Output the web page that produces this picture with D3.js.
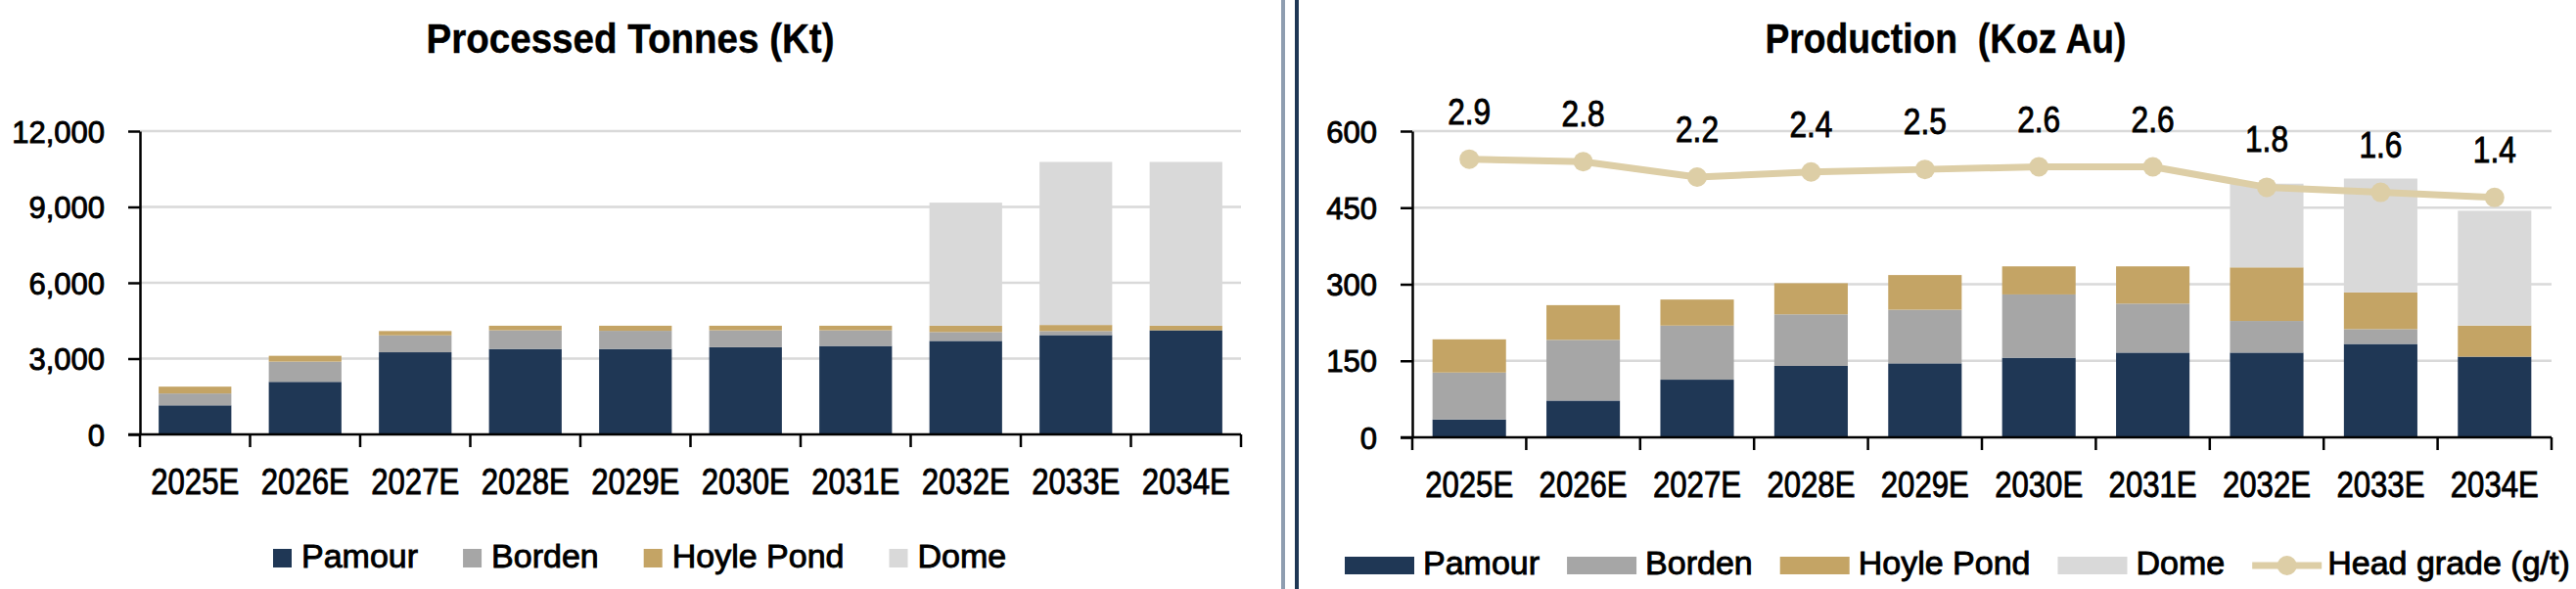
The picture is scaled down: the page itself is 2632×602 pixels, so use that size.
<!DOCTYPE html>
<html>
<head>
<meta charset="utf-8">
<script src="https://cdn.jsdelivr.net/npm/d3@7"></script>
<style>
  body { margin: 0; background: #fff; }
  svg text { font-family: "Liberation Sans", Arial, sans-serif; fill: #000; stroke: #000; stroke-width: 0.9px; }
</style>
</head>
<body>
<div id="chart"></div>
<script>

var years = ["2025E", "2026E", "2027E", "2028E", "2029E", "2030E", "2031E", "2032E", "2033E", "2034E"];
var mines = ["Pamour", "Borden", "Hoyle Pond", "Dome"];

// processed tonnes (Kt)
var tonnesPamour = [1150, 2080, 3250, 3380, 3380, 3450, 3500, 3700, 3930, 4120];
var tonnesBorden = [470, 800, 670, 740, 720, 670, 620, 350, 160, 0];
var tonnesHoyle  = [270, 230, 170, 180, 200, 180, 180, 250, 240, 180];
var tonnesDome   = [0, 0, 0, 0, 0, 0, 0, 4870, 6450, 6480];
var tonnesTicks  = [0, 3000, 6000, 9000, 12000];

// production (Koz Au)
var ozPamour = [35, 72, 113, 140, 145, 156, 166, 166, 183, 158];
var ozBorden = [92, 119, 106, 101, 105, 124, 96, 62, 29, 0];
var ozHoyle  = [65, 68, 51, 61, 68, 55, 73, 105, 72, 61];
var ozDome   = [0, 0, 0, 0, 0, 0, 0, 164, 223, 225];
var ozTicks  = [0, 150, 300, 450, 600];

// head grade (g/t), drawn on a hidden second axis
var headGrade = [2.9, 2.8, 2.2, 2.4, 2.5, 2.6, 2.6, 1.8, 1.6, 1.4];

var colors = ["#1f3755", "#a6a6a6", "#c4a465", "#d9d9d9"];
var lineColor = "#ddcea6";

var W = 2632, H = 602;

var svg = d3.select("#chart").append("svg")
    .attr("width", W)
    .attr("height", H);

function table(a, b, c, d) {
  return years.map(function (y, i) {
    return { year: y, "Pamour": a[i], "Borden": b[i], "Hoyle Pond": c[i], "Dome": d[i] };
  });
}

function drawChart(opt) {
  var g = svg.append("g");

  var x = d3.scaleBand()
      .domain(years)
      .range([opt.x0, opt.x1])
      .paddingInner(opt.pad)
      .paddingOuter(opt.pad / 2);

  var y = d3.scaleLinear()
      .domain([0, opt.ticks[opt.ticks.length - 1]])
      .range([opt.y0, opt.y1]);

  // gridlines
  g.selectAll(".grid").data(opt.ticks.slice(1)).enter().append("line")
      .attr("x1", opt.x0).attr("x2", opt.x1)
      .attr("y1", function (d) { return y(d); })
      .attr("y2", function (d) { return y(d); })
      .attr("stroke", "#d9d9d9")
      .attr("stroke-width", 2.5);

  var series = d3.stack().keys(mines)(opt.data);

  g.selectAll(".layer").data(series).enter().append("g")
      .attr("fill", function (d, i) { return colors[i]; })
    .selectAll("rect").data(function (d) { return d; }).enter().append("rect")
      .attr("x", function (d) { return x(d.data.year); })
      .attr("width", x.bandwidth())
      .attr("y", function (d) { return y(d[1]); })
      .attr("height", function (d) { return y(d[0]) - y(d[1]); });

  // y axis
  var yAxis = g.append("g")
      .attr("transform", "translate(" + opt.x0 + ",0)")
      .call(d3.axisLeft(y).tickValues(opt.ticks).tickSize(12).tickSizeOuter(0)
        .tickFormat(d3.format(",")));
  yAxis.select(".domain").attr("stroke", "#000").attr("stroke-width", 2.5);
  yAxis.selectAll(".tick line").attr("stroke", "#000").attr("stroke-width", 2.5);
  yAxis.selectAll(".tick text")
      .attr("x", -(opt.x0 - opt.yLabelRight))
      .attr("dy", "0.36em")
      .style("font-size", "31px")
      .style("font-family", "'Liberation Sans', Arial, sans-serif")
      .attr("fill", "#000");

  // x axis: baseline plus ticks at band edges
  var edges = years.map(function (d) { return x(d) - x.step() * x.paddingInner() / 2; });
  edges.push(opt.x1);
  g.append("line")
      .attr("x1", opt.x0 - 12).attr("x2", opt.x1)
      .attr("y1", opt.y0).attr("y2", opt.y0)
      .attr("stroke", "#000").attr("stroke-width", 2.5);
  g.selectAll(".xtick").data(edges).enter().append("line")
      .attr("x1", function (d) { return d; })
      .attr("x2", function (d) { return d; })
      .attr("y1", opt.y0).attr("y2", opt.y0 + 13)
      .attr("stroke", "#000").attr("stroke-width", 2.5);

  // condensed look of the category labels
  g.selectAll(".xlabel").data(years).enter().append("text")
      .attr("x", function (d) { return x(d) + x.bandwidth() / 2 - 45; })
      .attr("y", opt.y0 + 61)
      .attr("textLength", 90)
      .attr("lengthAdjust", "spacingAndGlyphs")
      .style("font-size", "37px")
      .text(function (d) { return d; });

  // title
  g.append("text")
      .attr("x", opt.titleX - opt.titleW / 2)
      .attr("y", 54)
      .attr("textLength", opt.titleW)
      .attr("lengthAdjust", "spacingAndGlyphs")
      .style("font-size", "42px")
      .style("font-weight", "bold")
      .style("stroke-width", "0.4px")
      .style("white-space", "pre")
      .text(opt.title);

  return { g: g, x: x, y: y };
}

var left = drawChart({
  data: table(tonnesPamour, tonnesBorden, tonnesHoyle, tonnesDome),
  ticks: tonnesTicks,
  x0: 143, x1: 1268, y0: 444, y1: 134,
  pad: 0.34, yLabelRight: 107,
  title: "Processed Tonnes (Kt)", titleX: 644, titleW: 417
});

var right = drawChart({
  data: table(ozPamour, ozBorden, ozHoyle, ozDome),
  ticks: ozTicks,
  x0: 1443, x1: 2607, y0: 447, y1: 134,
  pad: 0.355, yLabelRight: 1407,
  title: "Production\u00a0\u00a0(Koz Au)", titleX: 1988, titleW: 369
});

// head grade line on second scale
var y2 = d3.scaleLinear().domain([-8, 4]).range([447, 134]);
var cx = function (d, i) { return right.x(years[i]) + right.x.bandwidth() / 2; };

right.g.append("path")
    .datum(headGrade)
    .attr("fill", "none")
    .attr("stroke", lineColor)
    .attr("stroke-width", 7)
    .attr("stroke-linejoin", "round")
    .attr("d", d3.line().x(cx).y(function (d) { return y2(d); }));

right.g.selectAll(".dot").data(headGrade).enter().append("circle")
    .attr("cx", cx)
    .attr("cy", function (d) { return y2(d); })
    .attr("r", 10)
    .attr("fill", lineColor);

right.g.selectAll(".glabel").data(headGrade).enter().append("text")
    .attr("x", function (d, i) { return cx(d, i) - 22; })
    .attr("y", function (d) { return y2(d) - 36; })
    .attr("textLength", 44)
    .attr("lengthAdjust", "spacingAndGlyphs")
    .style("font-size", "37px")
    .text(function (d) { return d.toFixed(1); });

// legends
function legend(items, startX, baseY, keyW, keyH, gapKey, gapItem) {
  var lg = svg.append("g");
  var cur = startX;
  items.forEach(function (it) {
    if (it.line) {
      lg.append("line")
          .attr("x1", cur).attr("x2", cur + keyW)
          .attr("y1", baseY - keyH / 2).attr("y2", baseY - keyH / 2)
          .attr("stroke", it.color).attr("stroke-width", 7);
      lg.append("circle")
          .attr("cx", cur + keyW / 2).attr("cy", baseY - keyH / 2)
          .attr("r", 10).attr("fill", it.color);
    } else {
      lg.append("rect")
          .attr("x", cur).attr("y", baseY - keyH)
          .attr("width", keyW).attr("height", keyH)
          .attr("fill", it.color);
    }
    var t = lg.append("text")
        .attr("x", cur + keyW + (it.line ? 6 : gapKey))
        .attr("y", baseY)
        .style("font-size", "34px")
        .text(it.name);
    cur = cur + keyW + (it.line ? 6 : gapKey) + t.node().getComputedTextLength() + gapItem;
  });
}

legend(mines.map(function (m, i) { return { name: m, color: colors[i] }; }),
  279, 580, 19, 19, 10, 46);

legend(mines.map(function (m, i) { return { name: m, color: colors[i] }; })
    .concat([{ name: "Head grade (g/t)", color: lineColor, line: true }]),
  1374, 587, 71, 18, 9, 28);

// divider between the two charts
svg.append("line")
    .attr("x1", 1311).attr("x2", 1311).attr("y1", 0).attr("y2", H)
    .attr("stroke", "#8e9db0").attr("stroke-width", 4);
svg.append("line")
    .attr("x1", 1325).attr("x2", 1325).attr("y1", 0).attr("y2", H)
    .attr("stroke", "#1f3755").attr("stroke-width", 4);

</script>
</body>
</html>
